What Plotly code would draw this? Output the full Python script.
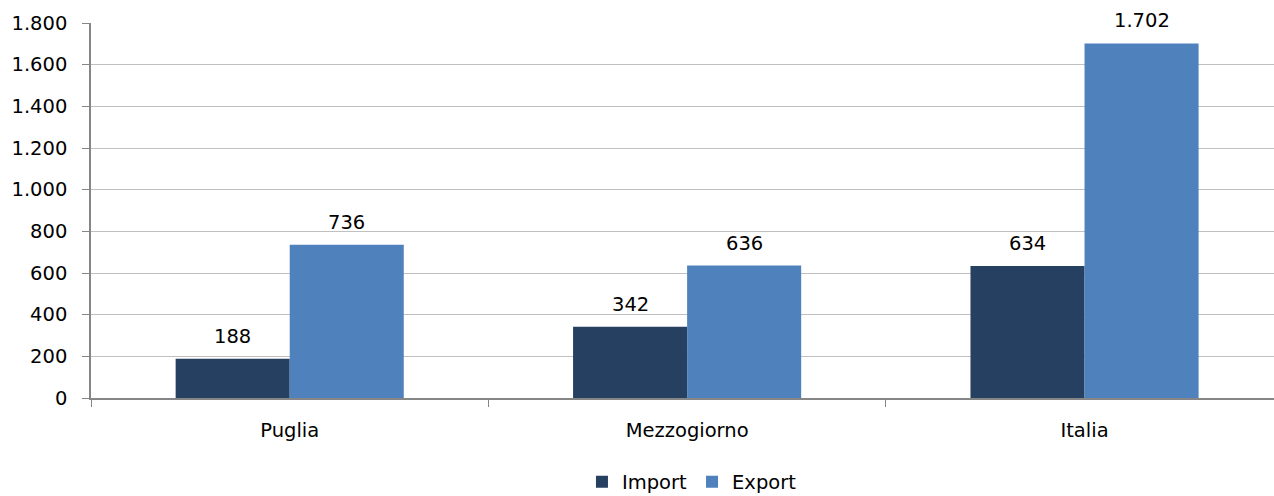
import plotly.graph_objects as go

categories = ["Puglia", "Mezzogiorno", "Italia"]
import_vals = [188, 342, 634]
export_vals = [736, 636, 1702]
y_ticks = [0, 200, 400, 600, 800, 1000, 1200, 1400, 1600, 1800]

C_IMP = "#264061"
C_EXP = "#4F81BD"
FONT = "DejaVu Sans"
FS = 19.5


def it_fmt(v):
    return f"{v:,}".replace(",", ".")


fig = go.Figure()
fig.add_trace(go.Bar(name="Import", x=categories, y=import_vals, marker_color=C_IMP,
                     marker_line_width=0))
fig.add_trace(go.Bar(name="Export", x=categories, y=export_vals, marker_color=C_EXP,
                     marker_line_width=0))

annotations = []
for i, c in enumerate(categories):
    for val, shift in ((import_vals[i], -57), (export_vals[i], 57)):
        annotations.append(dict(x=c, y=val, text=it_fmt(val), showarrow=False,
                                xshift=shift, yshift=9, yanchor="bottom",
                                font=dict(family=FONT, size=FS, color="#000000")))

W, H = 1274, 496
left, top, bottom = 90.75, 22.5, 98
cat_w = 397.5
x_end = -0.5 + (W - left) / cat_w

fig.update_layout(
    width=W, height=H, autosize=False,
    margin=dict(l=left, r=0, t=top, b=bottom, pad=0, autoexpand=False),
    paper_bgcolor="white", plot_bgcolor="white",
    barmode="group", bargap=0.426, bargroupgap=0,
    separators=",.",
    font=dict(family=FONT, size=FS, color="#000000"),
    annotations=annotations,
    showlegend=True,
    legend=dict(orientation="h", x=0.508, xanchor="center", y=-0.224, yanchor="middle",
                font=dict(family=FONT, size=FS), itemwidth=30, traceorder="normal",
                itemclick=False),
)
fig.update_xaxes(type="category", range=[-0.5, x_end], showline=True, linecolor="#868686",
                 linewidth=1.5, ticks="outside", tickson="boundaries", ticklen=7,
                 tickcolor="#868686", showgrid=False, fixedrange=True, automargin=False,
                 ticklabelstandoff=14, tickfont=dict(family=FONT, size=FS))
fig.update_yaxes(range=[0, 1800], tickvals=y_ticks, ticktext=[it_fmt(v) for v in y_ticks],
                 showline=True, linecolor="#868686", linewidth=1.5, ticks="outside",
                 ticklen=7, tickcolor="#868686", showgrid=True, gridcolor="#C0C0C0",
                 gridwidth=1, zeroline=False, ticklabelstandoff=11, fixedrange=True,
                 automargin=False, tickfont=dict(family=FONT, size=FS))

fig.write_html("out.html", config={"displayModeBar": False},
               post_script="document.body.style.margin='0';document.body.style.overflow='hidden';")
